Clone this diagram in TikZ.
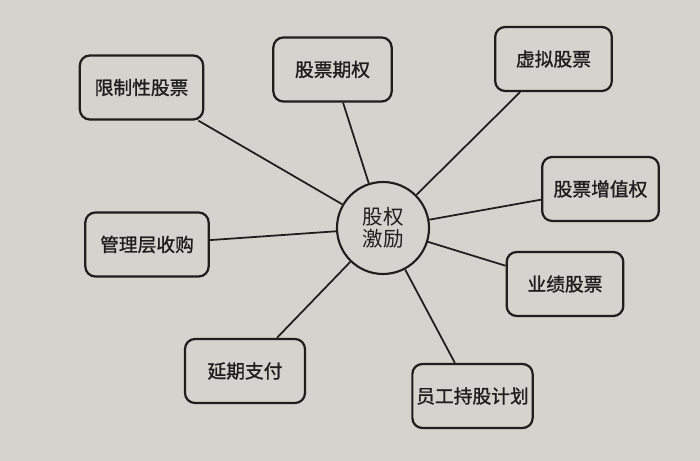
\documentclass[tikz,border=0pt]{standalone}
\usepackage{fontspec}
\setmainfont{Noto Sans CJK SC}
\newfontfamily\boxfont[FakeBold=1.2]{Noto Sans CJK SC}
\usetikzlibrary{shapes.geometric, positioning}

\definecolor{paper}{RGB}{213,211,205}
\definecolor{ink}{RGB}{30,30,30}

\begin{document}
\begin{tikzpicture}[x=0.03cm, y=-0.03cm,
  center/.style={circle, minimum size=2.76cm, inner sep=0pt, align=center, draw=ink, line width=1.8pt, fill=paper, text=ink, font=\fontsize{17.5}{21}\selectfont},
  item/.style={rectangle, rounded corners=0.3cm, minimum width=3.55cm, minimum height=1.92cm, text centered, align=center, draw=ink, line width=1.9pt, fill=paper, text=ink, font=\boxfont\fontsize{16}{19}\selectfont},
  link/.style={ink, line width=1.5pt}]

  \fill[paper] (0,0) rectangle (700,461);

  % Nodes
  \node (jili) [center] at (383,228) {股权\\[-2pt]激励};
  \node (xianzhi) [item, minimum width=3.7cm] at (141.5,87.5) {限制性股票};
  \node (qiquan) [item] at (332.5,69.5) {股票期权};
  \node (xuni) [item, minimum width=3.5cm] at (553.5,59) {虚拟股票};
  \node (zengzhi) [item, minimum width=3.5cm] at (600.5,189) {股票增值权};
  \node (shougou) [item, minimum width=3.7cm] at (147,244.5) {管理层收购};
  \node (yeji) [item, minimum width=3.5cm] at (565,284) {业绩股票};
  \node (yanqi) [item, minimum width=3.6cm] at (245,371) {延期支付};
  \node (chigu) [item, minimum width=3.45cm] at (472.5,396) {员工持股计划};

  % Lines
  \draw [link] (jili) -- (xianzhi);
  \draw [link] (jili) -- (qiquan);
  \draw [link] (jili) -- (xuni);
  \draw [link] (jili) -- (zengzhi);
  \draw [link] (jili) -- (shougou);
  \draw [link] (jili) -- (yeji);
  \draw [link] (jili) -- (yanqi);
  \draw [link] (jili) -- (chigu);

\end{tikzpicture}
\end{document}
